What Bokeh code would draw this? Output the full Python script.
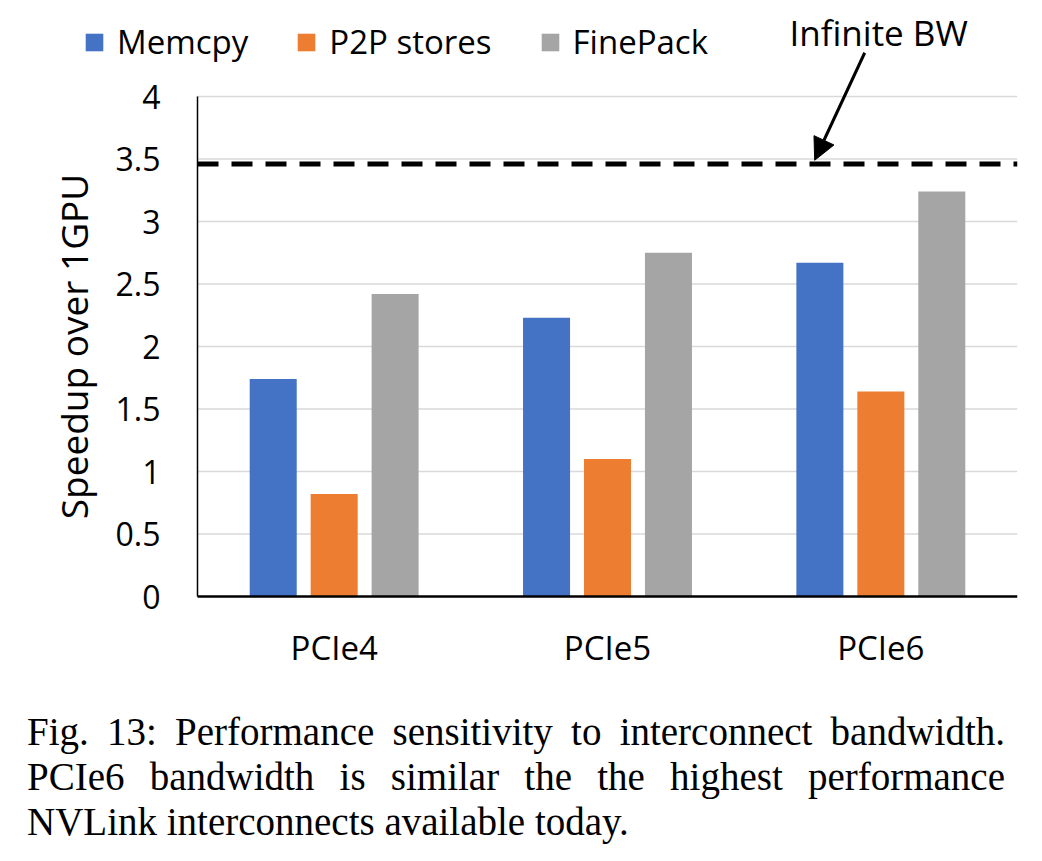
from bokeh.plotting import figure
from bokeh.models import (ColumnDataSource, Range1d, Arrow, NormalHead,
                          Label, Legend, LegendItem, Div, FixedTicker)
from bokeh.layouts import column
from bokeh.embed import file_html
from bokeh.resources import INLINE

# ---- data ----
categories = ["PCIe4", "PCIe5", "PCIe6"]
series = ["Memcpy", "P2P stores", "FinePack"]
memcpy = [1.74, 2.23, 2.67]
p2p_stores = [0.82, 1.10, 1.64]
finepack = [2.42, 2.75, 3.24]
infinite_bw = 3.46
y_ticks = [0, 0.5, 1, 1.5, 2, 2.5, 3, 3.5, 4]
y_tick_labels = ["0", "0.5", "1", "1.5", "2", "2.5", "3", "3.5", "4"]
y_label = "Speedup over 1GPU"
annotation_text = "Infinite BW"
caption_lines = [
    "Fig. 13: Performance sensitivity to interconnect bandwidth.",
    "PCIe6 bandwidth is similar the the highest performance",
    "NVLink interconnects available today.",
]

# ---- style / layout ----
colors = ["#4472C4", "#ED7D31", "#A5A5A5"]
offsets = [-0.223, 0.0, 0.223]
bar_width = 0.172
FONT = "Open Sans"
n = len(categories)
centers = [i + 0.5 for i in range(n)]
y_max = y_ticks[-1]

fig_h = 690
px_per_cat = 820 / n           # plot area width in px per category
left_px = 197                  # where the y axis sits
px_per_unit = 125
zero_px = 596                  # where the x axis sits

p = figure(x_range=Range1d(-left_px / px_per_cat, n),
           y_range=Range1d(-(fig_h - zero_px) / px_per_unit, zero_px / px_per_unit),
           width=1042, height=fig_h, output_backend="svg", toolbar_location=None,
           min_border_left=0, min_border_right=25, min_border_top=0,
           min_border_bottom=0)

# gridlines over the plot area only
p.segment(x0=[0] * (len(y_ticks) - 1), x1=[n] * (len(y_ticks) - 1),
          y0=y_ticks[1:], y1=y_ticks[1:], line_color="#d9d9d9", line_width=1.5)

renderers = []
for name, vals, col, off in zip(series, [memcpy, p2p_stores, finepack], colors, offsets):
    src = ColumnDataSource(dict(x=[c + off for c in centers], val=vals, cat=categories))
    r = p.vbar(x="x", top="val", width=bar_width, source=src,
               fill_color=col, line_color=None)
    renderers.append((name, r))

# infinite bandwidth dashed line
p.segment(x0=[0], x1=[n], y0=[infinite_bw], y1=[infinite_bw],
          line_color="black", line_width=5, line_dash="21 13")

legend = Legend(items=[LegendItem(label=nm, renderers=[r]) for nm, r in renderers],
                orientation="horizontal", location=(83, 626),
                glyph_width=22, glyph_height=22, label_standoff=12, spacing=47,
                padding=0, margin=0, border_line_color=None,
                background_fill_alpha=0,
                label_text_font=FONT, label_text_font_size="33px",
                label_text_color="black")
p.add_layout(legend)

# axes
p.yaxis.fixed_location = 0
p.yaxis.bounds = (0, y_max)
p.yaxis.ticker = FixedTicker(ticks=y_ticks)
p.yaxis.major_label_overrides = dict(zip(y_ticks, y_tick_labels))
p.yaxis.axis_label = y_label
p.yaxis.axis_label_text_font = FONT
p.yaxis.axis_label_text_font_size = "37px"
p.yaxis.axis_label_text_font_style = "normal"
p.yaxis.axis_label_text_color = "black"
p.yaxis.axis_label_standoff = 14
p.yaxis.major_label_text_font = FONT
p.yaxis.major_label_text_font_size = "32px"
p.yaxis.major_label_text_color = "black"
p.yaxis.major_label_standoff = 37
p.yaxis.major_tick_out = 0
p.yaxis.major_tick_in = 0
p.yaxis.minor_tick_out = 0
p.yaxis.minor_tick_in = 0
p.yaxis.axis_line_color = "black"
p.yaxis.axis_line_width = 1.5

p.xaxis.fixed_location = 0
p.xaxis.bounds = (0, n)
p.xaxis.ticker = FixedTicker(ticks=centers)
p.xaxis.major_label_overrides = dict(zip(centers, categories))
p.xaxis.major_label_text_font = FONT
p.xaxis.major_label_text_font_size = "33px"
p.xaxis.major_label_text_color = "black"
p.xaxis.major_label_standoff = 28
p.xaxis.major_tick_out = 0
p.xaxis.major_tick_in = 0
p.xaxis.minor_tick_out = 0
p.xaxis.minor_tick_in = 0
p.xaxis.axis_line_color = "black"
p.xaxis.axis_line_width = 2.5

p.xgrid.grid_line_color = None
p.ygrid.grid_line_color = None
p.outline_line_color = None

p.add_layout(Arrow(end=NormalHead(size=22, fill_color="black", line_color="black"),
                   x_start=2.441, y_start=4.35, x_end=2.258, y_end=infinite_bw + 0.03,
                   line_width=3, line_color="black"))
p.add_layout(Label(x=2.492, y=4.51, text=annotation_text, text_align="center",
                   text_baseline="alphabetic", text_font=FONT,
                   text_font_size="35px", text_color="black"))

line_style = ("font-family:'Liberation Serif','Times New Roman',serif;"
              "font-size:39px;line-height:45px;color:black;white-space:nowrap;")
cap_html = (
    f"<div style=\"{line_style}text-align:justify;text-align-last:justify;\">{caption_lines[0]}</div>"
    f"<div style=\"{line_style}text-align:justify;text-align-last:justify;\">{caption_lines[1]}</div>"
    f"<div style=\"{line_style}text-align:left;\">{caption_lines[2]}</div>"
)
caption = Div(text=f"<div style=\"width:1000px;padding:14px 0 0 22px;\">{cap_html}</div>",
              width=1042, height=171)

layout = column(p, caption, spacing=0)
open("out.html", "w").write(file_html(layout, INLINE))
